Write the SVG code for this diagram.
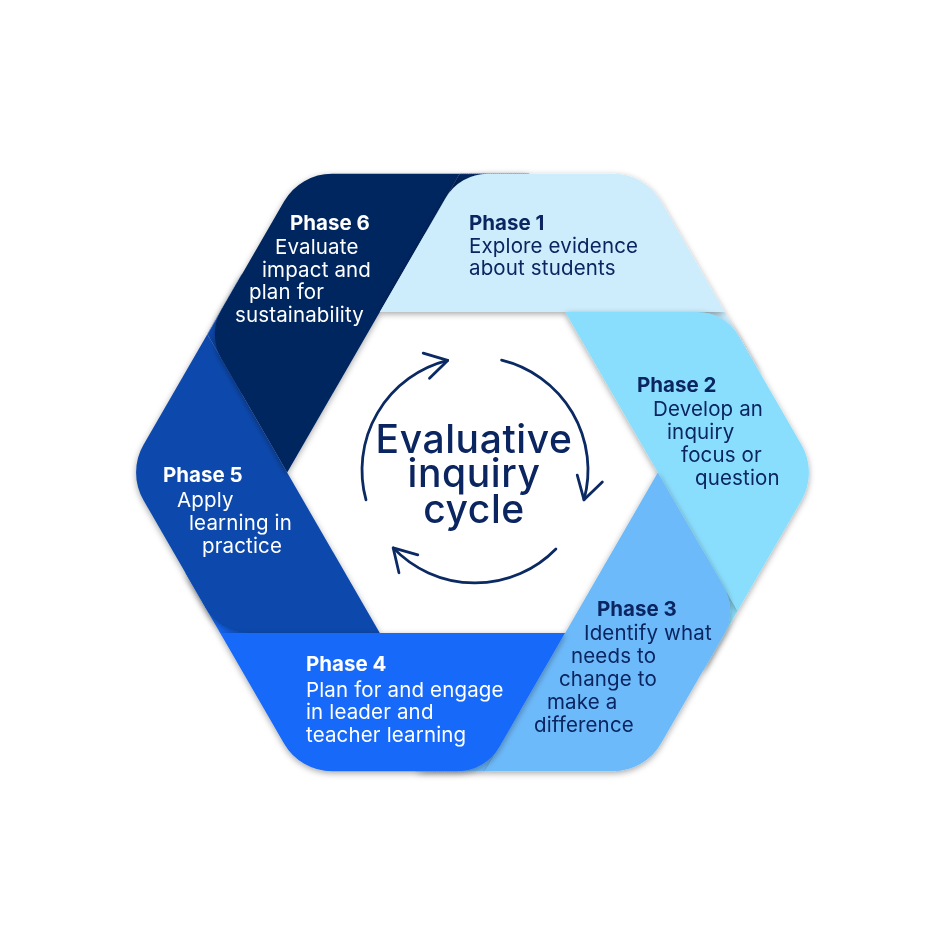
<svg xmlns="http://www.w3.org/2000/svg" xmlns:xlink="http://www.w3.org/1999/xlink" width="950" height="950" viewBox="0 0 950 950">
  <defs>
    <style>
      .hd { font-family: Inter, "Open Sans", "Liberation Sans", sans-serif; font-weight: 700; font-size: 20.5px; }
      .tx { font-family: Inter, "Open Sans", "Liberation Sans", sans-serif; font-weight: 400; font-size: 20.5px; letter-spacing: 0.15px; }
      .dark { fill: #0b2560; }
      .light { fill: #ffffff; }
      .title { font-family: Inter, "Open Sans", "Liberation Sans", sans-serif; font-weight: 500; font-size: 39px; letter-spacing: 0.6px; fill: #0b2560; text-anchor: middle; }
      .arc { fill: none; stroke: #0b2a63; stroke-width: 2.8; stroke-linecap: round; marker-end: url(#chev); }
    </style>
    <filter id="shade" x="-20%" y="-20%" width="140%" height="140%">
      <feDropShadow dx="0" dy="2" stdDeviation="3" flood-color="#000" flood-opacity="0.35"/>
    </filter>
    <!-- top band of the hexagon ring; the other five are rotations of it -->
    <path id="seg" d="M 379.85 312 L 724.83 312 L 661 201.44 A 55.4 55.4 0 0 0 613 173.73 L 487.68 173.73 A 48.5 48.5 0 0 0 445.68 197.98 Z"/>
    <!-- small fold that runs under the next band's rounded corner -->
    <path id="fold" d="M 724.83 312 L 654.83 312 L 759.83 372.62 Z"/>
    <marker id="chev" markerUnits="userSpaceOnUse" markerWidth="40" markerHeight="40" viewBox="-30 -20 40 40" refX="0" refY="0" orient="auto">
      <path d="M -22 -13 L 0 0 L -22 13" fill="none" stroke="#0b2a63" stroke-width="2.8" stroke-linecap="round" stroke-linejoin="round"/>
    </marker>
  </defs>

  <rect width="950" height="950" fill="#ffffff"/>

  <!-- folds under the rounded leading corners -->
  <g id="folds" filter="url(#shade)">
    <use xlink:href="#fold" fill="#cdedfd"/>
    <use xlink:href="#fold" fill="#8adefd" transform="rotate(60 472.5 472.5)"/>
    <use xlink:href="#fold" fill="#6dbafb" transform="rotate(120 472.5 472.5)"/>
    <use xlink:href="#fold" fill="#1769f9" transform="rotate(180 472.5 472.5)"/>
    <use xlink:href="#fold" fill="#0c4aad" transform="rotate(240 472.5 472.5)"/>
    <use xlink:href="#fold" fill="#002561" transform="rotate(300 472.5 472.5)"/>
  </g>

  <g id="phase-5">
    <g filter="url(#shade)"><use xlink:href="#seg" fill="#0c4aad" transform="rotate(240 472.5 472.5)"/></g>
    <text class="hd light" x="163" y="482">Phase 5</text>
    <text class="tx light" x="177" y="507">Apply</text>
    <text class="tx light" x="189" y="530">learning in</text>
    <text class="tx light" x="202" y="553">practice</text>
  </g>

  <g id="phase-6">
    <g filter="url(#shade)"><use xlink:href="#seg" fill="#002561" transform="rotate(300 472.5 472.5)"/></g>
    <text class="hd light" x="290" y="230">Phase 6</text>
    <text class="tx light" x="275" y="254">Evaluate</text>
    <text class="tx light" x="262" y="277">impact and</text>
    <text class="tx light" x="249" y="299">plan for</text>
    <text class="tx light" x="235" y="322">sustainability</text>
  </g>

  <g id="phase-1">
    <g filter="url(#shade)"><use xlink:href="#seg" fill="#cdedfd"/></g>
    <text class="hd dark" x="469" y="230">Phase 1</text>
    <text class="tx dark" x="469" y="253">Explore evidence</text>
    <text class="tx dark" x="469" y="275">about students</text>
  </g>

  <g id="phase-2">
    <g filter="url(#shade)"><use xlink:href="#seg" fill="#8adefd" transform="rotate(60 472.5 472.5)"/></g>
    <text class="hd dark" x="637" y="392">Phase 2</text>
    <text class="tx dark" x="653" y="416">Develop an</text>
    <text class="tx dark" x="667" y="439">inquiry</text>
    <text class="tx dark" x="681" y="462">focus or</text>
    <text class="tx dark" x="695" y="485">question</text>
  </g>

  <g id="phase-3">
    <g filter="url(#shade)"><use xlink:href="#seg" fill="#6dbafb" transform="rotate(120 472.5 472.5)"/></g>
    <text class="hd dark" x="597" y="616">Phase 3</text>
    <text class="tx dark" x="584" y="640">Identify what</text>
    <text class="tx dark" x="571" y="663">needs to</text>
    <text class="tx dark" x="559" y="686">change to</text>
    <text class="tx dark" x="547" y="709">make a</text>
    <text class="tx dark" x="534" y="732">difference</text>
  </g>

  <g id="phase-4">
    <g filter="url(#shade)"><use xlink:href="#seg" fill="#1769f9" transform="rotate(180 472.5 472.5)"/></g>
    <text class="hd light" x="306" y="671">Phase 4</text>
    <text class="tx light" x="306" y="697">Plan for and engage</text>
    <text class="tx light" x="306" y="719">in leader and</text>
    <text class="tx light" x="306" y="742">teacher learning</text>
  </g>

  <!-- cycle arrows around the centre label -->
  <g id="cycle-arrows">
    <path class="arc" d="M 366 499.8 A 113 113 0 0 1 447.7 360.4"/>
    <path class="arc" d="M 501.6 360.2 A 113 113 0 0 1 584 499.8"/>
    <path class="arc" d="M 555.9 548.9 A 113 113 0 0 1 393.2 547.9"/>
  </g>

  <g id="centre-label">
    <text class="title" x="474" y="453">Evaluative</text>
    <text class="title" x="474" y="487">inquiry</text>
    <text class="title" x="474" y="523">cycle</text>
  </g>
</svg>
